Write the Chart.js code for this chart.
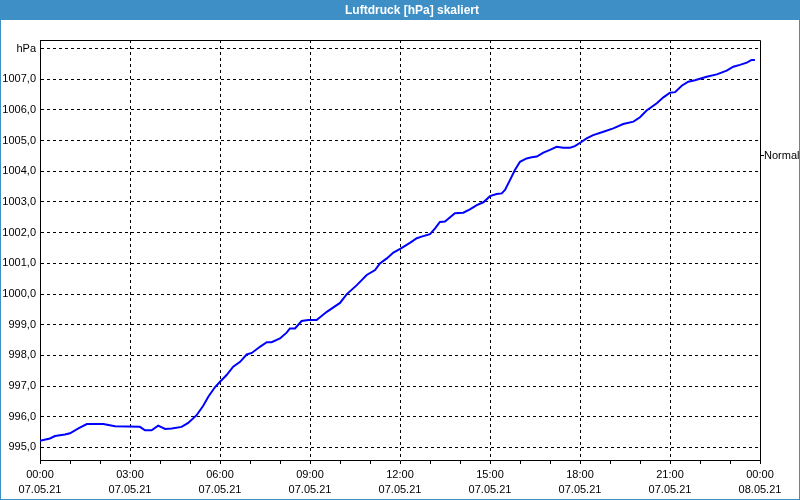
<!DOCTYPE html>
<html>
<head>
<meta charset="utf-8">
<script src="https://cdn.jsdelivr.net/npm/chart.js@4"></script>
<style>
    html, body { margin: 0; padding: 0; background: #ffffff; }
    #frame {
        position: relative;
        width: 800px;
        height: 500px;
        overflow: hidden;
    }
    #chart { position: absolute; left: 0; top: 0; }
    #title-bar {
        position: absolute;
        left: 0;
        top: 0;
        width: 800px;
        height: 20px;
        background: #3d8fc6;
        color: #ffffff;
        font: bold 12px "Liberation Sans", Arial, sans-serif;
        line-height: 21px;
    }
    #title-bar span { position: absolute; left: 345px; }
    #border {
        position: absolute;
        left: 0;
        top: 0;
        width: 798px;
        height: 499px;
        border-left: 1px solid #3d8fc6;
        border-right: 1px solid #3d8fc6;
        border-bottom: 1px solid #3d8fc6;
        pointer-events: none;
    }
</style>
</head>
<body>
<div id="frame">
    <canvas id="chart" width="800" height="500"></canvas>
    <div id="title-bar"><span>Luftdruck [hPa] skaliert</span></div>
    <div id="border"></div>
</div>
<script>
// hours since 07.05.21 00:00
const hours = [
    0.0, 0.33, 0.5, 0.83, 1.0, 1.28, 1.56, 2.11, 2.5, 3.33,
    3.5, 3.72, 3.94, 4.17, 4.39, 4.72, 4.94, 5.22, 5.44, 5.61,
    5.83, 6.0, 6.22, 6.44, 6.67, 6.89, 7.06, 7.33, 7.56, 7.72,
    8.0, 8.22, 8.33, 8.5, 8.72, 8.94, 9.22, 9.56, 10.0, 10.22,
    10.56, 10.89, 11.17, 11.33, 11.56, 11.78, 12.02, 12.33, 12.56, 12.72,
    13.0, 13.17, 13.33, 13.5, 13.83, 14.11, 14.33, 14.56, 14.78, 15.0,
    15.22, 15.39, 15.5, 15.67, 15.83, 16.0, 16.22, 16.39, 16.56, 16.78,
    17.0, 17.22, 17.44, 17.67, 17.83, 18.02, 18.22, 18.44, 18.78, 19.11,
    19.44, 19.78, 20.0, 20.22, 20.56, 20.78, 21.0, 21.17, 21.39, 21.61,
    21.83, 22.22, 22.56, 22.89, 23.11, 23.33, 23.56, 23.72, 23.83
];
// air pressure in hPa
const pressure = [
    995.22, 995.29, 995.37, 995.42, 995.46, 995.62, 995.76, 995.76, 995.69, 995.67,
    995.56, 995.56, 995.71, 995.60, 995.62, 995.67, 995.80, 996.05, 996.36, 996.65,
    996.96, 997.14, 997.36, 997.63, 997.79, 998.03, 998.08, 998.28, 998.43, 998.43,
    998.55, 998.74, 998.88, 998.88, 999.12, 999.15, 999.15, 999.42, 999.71, 999.99,
    1000.29, 1000.62, 1000.78, 1001.00, 1001.16, 1001.35, 1001.48, 1001.67, 1001.82, 1001.87,
    1001.95, 1002.14, 1002.35, 1002.36, 1002.63, 1002.65, 1002.76, 1002.90, 1002.99, 1003.19,
    1003.26, 1003.28, 1003.39, 1003.72, 1004.04, 1004.31, 1004.42, 1004.46, 1004.48, 1004.61,
    1004.70, 1004.80, 1004.77, 1004.77, 1004.82, 1004.94, 1005.07, 1005.18, 1005.29, 1005.40,
    1005.54, 1005.62, 1005.76, 1005.98, 1006.22, 1006.41, 1006.56, 1006.58, 1006.79, 1006.92,
    1006.97, 1007.08, 1007.16, 1007.28, 1007.41, 1007.47, 1007.54, 1007.63, 1007.63
];

// axis ticks
const yTicks = [995, 996, 997, 998, 999, 1000, 1001, 1002, 1003, 1004, 1005, 1006, 1007, 1008];
const xTicks = [0, 1, 2, 3, 4, 5, 6, 7, 8, 9, 10, 11, 12, 13, 14, 15, 16, 17, 18, 19, 20, 21, 22, 23, 24];
const timeLabels = ["00:00", "03:00", "06:00", "09:00", "12:00", "15:00", "18:00", "21:00", "00:00"];
const dateLabels = ["07.05.21", "07.05.21", "07.05.21", "07.05.21", "07.05.21", "07.05.21", "07.05.21", "07.05.21", "08.05.21"];

// "Normal" marker on the right side
const normalValue = 1004.53;
const normalLabel = "Normal";

const FONT = { family: "'Liberation Sans', Arial, sans-serif", size: 11, lineHeight: "15px" };

// draws the top and right plot border and the Normal marker
const framePlugin = {
    id: "frame",
    afterDraw(chart) {
        const { ctx, chartArea } = chart;
        const yScale = chart.scales.y;
        ctx.save();
        ctx.strokeStyle = "#000000";
        ctx.lineWidth = 1;
        ctx.beginPath();
        ctx.moveTo(chartArea.left, chartArea.top + 0.5);
        ctx.lineTo(chartArea.right + 0.5, chartArea.top + 0.5);
        ctx.lineTo(chartArea.right + 0.5, chartArea.bottom);
        ctx.stroke();

        const ny = Math.round(yScale.getPixelForValue(normalValue)) + 0.5;
        ctx.beginPath();
        ctx.moveTo(chartArea.right + 1, ny);
        ctx.lineTo(chartArea.right + 4, ny);
        ctx.stroke();
        ctx.fillStyle = "#000000";
        ctx.font = "11px 'Liberation Sans', Arial, sans-serif";
        ctx.textAlign = "left";
        ctx.textBaseline = "middle";
        ctx.fillText(normalLabel, chartArea.right + 4, ny);
        ctx.restore();
    }
};

const points = hours.map((h, i) => ({ x: h, y: pressure[i] }));

new Chart(document.getElementById("chart"), {
    type: "line",
    plugins: [framePlugin],
    data: {
        datasets: [
            {
                data: points,
                borderColor: "#0000ff",
                borderWidth: 2,
                pointRadius: 0,
                tension: 0,
                fill: false,
            },
        ],
    },
    options: {
        responsive: false,
        animation: false,
        layout: { padding: { top: 40, right: 40, left: 0, bottom: 0 } },
        plugins: {
            legend: { display: false },
            tooltip: { enabled: false },
        },
        scales: {
            x: {
                type: "linear",
                min: 0,
                max: 24,
                afterBuildTicks: (scale) => {
                    scale.ticks = xTicks.map((v) => ({ value: v }));
                },
                afterFit: (scale) => {
                    scale.height = 40;
                },
                ticks: {
                    autoSkip: false,
                    maxRotation: 0,
                    padding: 3.5,
                    color: "#000000",
                    font: FONT,
                    callback: (value) => {
                        if (value % 3 !== 0) return "";
                        const i = value / 3;
                        return [timeLabels[i], dateLabels[i]];
                    },
                },
                grid: {
                    color: (ctx) => {
                        const v = ctx.tick ? ctx.tick.value : 0;
                        return v % 3 === 0 && v !== 0 && v !== 24 ? "#000000" : "rgba(0,0,0,0)";
                    },
                    tickColor: "#000000",
                    tickLength: 4,
                    lineWidth: 1,
                },
                border: { color: "#000000", width: 1, dash: [3, 3] },
            },
            y: {
                type: "linear",
                min: 994.59,
                max: 1008.28,
                afterBuildTicks: (scale) => {
                    scale.ticks = yTicks.map((v) => ({ value: v }));
                },
                afterFit: (scale) => {
                    scale.width = 40;
                },
                ticks: {
                    padding: 4,
                    color: "#000000",
                    font: FONT,
                    callback: (value) => (value === 1008 ? "hPa" : value.toFixed(1).replace(".", ",")),
                },
                grid: {
                    color: "#000000",
                    lineWidth: 1,
                    drawTicks: false,
                },
                border: { color: "#000000", width: 1, dash: [3, 3] },
            },
        },
    },
});
</script>
</body>
</html>
